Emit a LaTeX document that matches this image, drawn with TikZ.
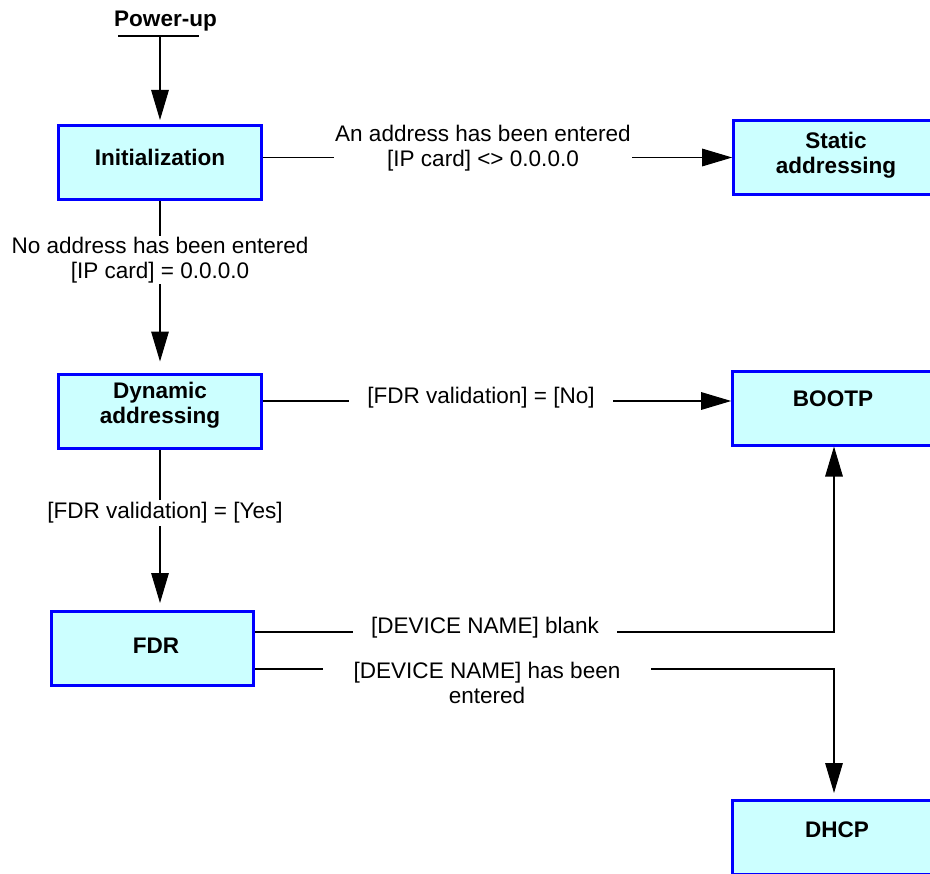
\documentclass[tikz,border=0pt]{standalone}
\usepackage{fontspec}
\setmainfont{Liberation Sans}
\usetikzlibrary{arrows.meta}
\definecolor{stagefill}{HTML}{CCFFFF}
\definecolor{stageline}{HTML}{0000FF}
\newcommand\diagfont{\fontsize{16.9}{18.8}\selectfont}
\tikzset{
  stage/.style={draw=stageline, fill=stagefill, line width=2.25pt, minimum width=152pt, minimum height=55.5pt, inner sep=0pt},
  stagetext/.style={font=\diagfont\bfseries, align=center, inner sep=0pt},
  cond/.style={font=\diagfont, fill=white, align=center, inner xsep=1pt, inner ysep=1pt},
  flow/.style={line width=0.8pt, -{Triangle[length=22.5pt,width=13.2pt]}},
}
\begin{document}
\begin{tikzpicture}[x=0.75pt, y=-0.75pt]
\useasboundingbox (0,0) rectangle (930,873);
\clip (0,0) rectangle (930,873);
% boxes
\node[stage] (init) at (160,162.5) {};
\node[stage] (static) at (835,157.5) {};
\node[stage] (dyn) at (160,411) {};
\node[stage] (bootp) at (834,408) {};
\node[stage] (fdr) at (152.5,648.5) {};
\node[stage] (dhcp) at (834,837.5) {};
\node[stagetext] (initname) at (160,157) {Initialization};
\node[stagetext] (staticname) at (836,155) {Static\\addressing};
\node[stagetext] (dynname) at (160,405) {Dynamic\\addressing};
\node[stagetext] (bootpname) at (833,399) {BOOTP};
\node[stagetext] (fdrname) at (156,646) {FDR};
\node[stagetext] (dhcpname) at (837,830) {DHCP};
% power-up
\node[stagetext] (power) at (165.5,21) {Power-up};
\coordinate (powerfoot) at (160,36);
\draw[line width=0.8pt] ([xshift=-31.5pt]powerfoot) -- ([xshift=29.25pt]powerfoot);
\draw[flow, shorten >=3pt] (powerfoot) -- (init);
% connectors
\coordinate (norow) at (0,401);
\coordinate (blankrow) at (0,632);
\coordinate (enteredrow) at (0,669);
\draw[flow] (init.east |- static.west) -- (static.west);
\draw[flow, shorten >=8.25pt] (init) -- (dyn);
\draw[flow] (dyn.east |- norow) -- (bootp.west |- norow);
\draw[flow, shorten >=5.25pt] (dyn.south) -- (dyn.south |- fdr.north);
\draw[flow] (fdr.east |- blankrow) -| (bootp.south);
\draw[flow, shorten >=4.5pt] (fdr.east |- enteredrow) -| (dhcp.north);
% conditions
\node[cond] (addrlabel) at (483,148) {An address has been entered\\{}[IP card] <> 0.0.0.0};
\node[cond] (noaddrlabel) at (160,260) {No address has been entered\\{}[IP card] = 0.0.0.0};
\node[cond, inner xsep=14pt] (nolabel) at (481,398) {[FDR validation] = [No]};
\node[cond, inner ysep=2pt] (yeslabel) at (165,513) {[FDR validation] = [Yes]};
\node[cond, inner xsep=13.5pt] (blanklabel) at (485,628) {[DEVICE NAME] blank};
\node[cond, inner xsep=23pt] (enteredlabel) at (487,683) {[DEVICE NAME] has been\\entered};
\end{tikzpicture}
\end{document}
